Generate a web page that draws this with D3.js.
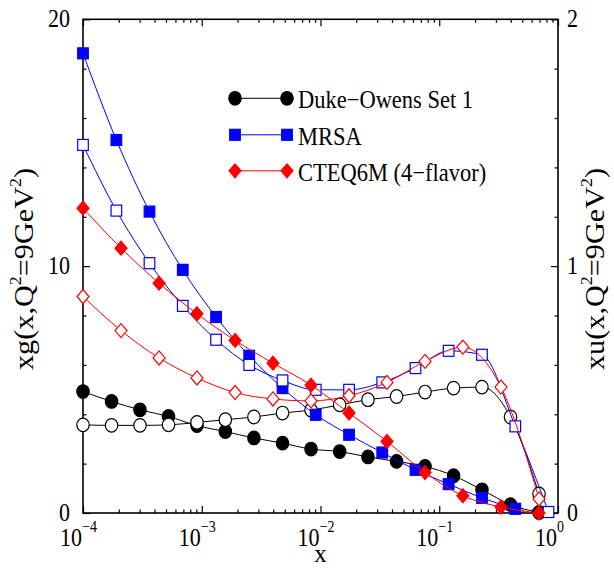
<!DOCTYPE html>
<html>
<head>
<meta charset="utf-8">
<script src="https://cdn.jsdelivr.net/npm/d3@7"></script>
<style>
  html, body { margin: 0; padding: 0; background: #fff; }
  svg { display: block; }
  text { font-family: "Liberation Serif", "Times New Roman", serif; fill: #000; }
</style>
</head>
<body>
<svg id="chart" width="614" height="569"></svg>
<script>
// ---------------- data ----------------
const dukeX = [1.0e-4, 1.74e-4, 3.02e-4, 5.25e-4, 9.12e-4, 1.58e-3, 2.75e-3, 4.79e-3, 8.32e-3,
               1.45e-2, 2.51e-2, 4.37e-2, 7.59e-2, 0.132, 0.229, 0.398, 0.692];
const dukeXg = [4.92, 4.52, 4.18, 3.91, 3.54, 3.30, 3.04, 2.83, 2.59,
                2.49, 2.27, 2.09, 1.89, 1.51, 0.94, 0.34, 0.02];
const dukeXu = [0.357, 0.355, 0.355, 0.357, 0.367, 0.378, 0.389, 0.405, 0.417,
                0.438, 0.459, 0.472, 0.490, 0.506, 0.510, 0.389, 0.077];

const mrsaX = [1.0e-4, 1.91e-4, 3.63e-4, 6.92e-4, 1.32e-3, 2.51e-3, 4.79e-3, 9.12e-3,
               1.74e-2, 3.31e-2, 6.31e-2, 0.120, 0.229, 0.437, 0.832];
const mrsaXg = [18.62, 15.11, 12.21, 9.85, 7.94, 6.37, 5.06, 3.98,
                3.17, 2.45, 1.75, 1.17, 0.61, 0.17];
const mrsaXu = [1.491, 1.225, 1.012, 0.839, 0.702, 0.600, 0.537, 0.499,
                0.499, 0.529, 0.587, 0.657, 0.641, 0.351, 0.004];

const cteqX = [1.0e-4, 2.09e-4, 4.37e-4, 9.12e-4, 1.91e-3, 3.98e-3, 8.32e-3,
               1.74e-2, 3.63e-2, 7.59e-2, 0.158, 0.331, 0.692];
const cteqXg = [12.35, 10.73, 9.31, 8.07, 6.99, 6.07, 5.18, 4.05, 2.90, 1.64, 0.70, 0.24, 0.0];
const cteqXu = [0.877, 0.739, 0.628, 0.547, 0.488, 0.462, 0.454, 0.475, 0.529, 0.614, 0.672, 0.510, 0.057];

const legendLabels = ["Duke\u2212Owens Set 1", "MRSA", "CTEQ6M (4\u2212flavor)"];
const xMajorTicks = [1e-4, 1e-3, 1e-2, 1e-1, 1];
const xTickExponents = ["\u22124", "\u22123", "\u22122", "\u22121", "0"];
const yLeftMajor = [0, 10, 20];
const yRightMajor = [0, 1, 2];

// ---------------- layout ----------------
const L = 83, R = 558, T = 19.3, B = 513;
const SY = 1.12; // vertical stretch of the glyphs in the reference
const svg = d3.select("#chart");

const x = d3.scaleLog().domain([1e-4, 1]).range([L, R]);
const yL = d3.scaleLinear().domain([0, 20]).range([B, T]);
const yR = d3.scaleLinear().domain([0, 2]).range([B, T]);

// minor ticks
const xMinor = [];
for (let e = -4; e < 0; e++) for (let m = 2; m <= 9; m++) xMinor.push(m * Math.pow(10, e));
const yLeftMinor = d3.range(0, 20.001, 2).filter(v => v % 10 !== 0);
const yRightMinor = yLeftMinor.map(v => v / 10);

function cleanAxis(g) { g.select(".domain").remove(); g.selectAll("text").remove();
  g.selectAll("line").attr("stroke", "#000").attr("stroke-width", 1.2); }

// bottom / top
svg.append("g").attr("transform", `translate(0,${B})`)
  .call(d3.axisBottom(x).tickValues(xMajorTicks).tickSizeInner(-7).tickSizeOuter(0)).call(cleanAxis);
svg.append("g").attr("transform", `translate(0,${B})`)
  .call(d3.axisBottom(x).tickValues(xMinor).tickSizeInner(-3.5).tickSizeOuter(0)).call(cleanAxis);
svg.append("g").attr("transform", `translate(0,${T})`)
  .call(d3.axisTop(x).tickValues(xMajorTicks).tickSizeInner(-7).tickSizeOuter(0)).call(cleanAxis);
svg.append("g").attr("transform", `translate(0,${T})`)
  .call(d3.axisTop(x).tickValues(xMinor).tickSizeInner(-3.5).tickSizeOuter(0)).call(cleanAxis);
// left / right
svg.append("g").attr("transform", `translate(${L},0)`)
  .call(d3.axisLeft(yL).tickValues(yLeftMajor).tickSizeInner(-7).tickSizeOuter(0)).call(cleanAxis);
svg.append("g").attr("transform", `translate(${L},0)`)
  .call(d3.axisLeft(yL).tickValues(yLeftMinor).tickSizeInner(-3.5).tickSizeOuter(0)).call(cleanAxis);
svg.append("g").attr("transform", `translate(${R},0)`)
  .call(d3.axisRight(yR).tickValues(yRightMajor).tickSizeInner(-7).tickSizeOuter(0)).call(cleanAxis);
svg.append("g").attr("transform", `translate(${R},0)`)
  .call(d3.axisRight(yR).tickValues(yRightMinor).tickSizeInner(-3.5).tickSizeOuter(0)).call(cleanAxis);

// frame
svg.append("rect").attr("x", L).attr("y", T).attr("width", R - L).attr("height", B - T)
  .attr("fill", "none").attr("stroke", "#000").attr("stroke-width", 1.6);

// ---------------- text helpers ----------------
function txt(px, py, str, size, anchor) {
  return svg.append("text")
    .attr("transform", `translate(${px},${py}) scale(1,${SY})`)
    .attr("font-size", size).attr("text-anchor", anchor || "start").text(str);
}

// x tick labels
xMajorTicks.forEach((v, i) => {
  const px = x(v);
  txt(px - 1, 546, "10", 22, "end");
  txt(px - 1, 532, xTickExponents[i], 14, "start");
});
// left / right tick labels
yLeftMajor.forEach(v => txt(70, yL(v) + 8, String(v), 22, "end"));
yRightMajor.forEach(v => txt(567, yR(v) + 8, String(v), 22, "start"));

// axis titles
svg.append("text")
  .attr("transform", `translate(${(L + R) / 2},562)`)
  .attr("font-size", 25).attr("text-anchor", "middle").text("x");

function yTitle(px, py, prefix) {
  const t = svg.append("text")
    .attr("transform", `translate(${px},${py}) rotate(-90) scale(${SY},1)`)
    .attr("font-size", 27).attr("text-anchor", "middle");
  t.append("tspan").text(prefix + "(x,Q");
  t.append("tspan").attr("font-size", 16).attr("dy", -12).text("2");
  t.append("tspan").attr("dy", 12).text("=9GeV");
  t.append("tspan").attr("font-size", 16).attr("dy", -12).text("2");
  t.append("tspan").attr("dy", 12).text(")");
}
yTitle(33, 269, "xg");
yTitle(604, 269, "xu");

// ---------------- series ----------------
const marker = {
  circle: (g, cx, cy, fill, stroke) => g.append("ellipse").attr("cx", cx).attr("cy", cy)
      .attr("rx", 6.2).attr("ry", 6.8).attr("fill", fill).attr("stroke", stroke).attr("stroke-width", 1.2),
  square: (g, cx, cy, fill, stroke) => g.append("rect").attr("x", cx - 5.3).attr("y", cy - 5.5)
      .attr("width", 10.6).attr("height", 11).attr("fill", fill).attr("stroke", stroke).attr("stroke-width", 1.2),
  diamond: (g, cx, cy, fill, stroke) => g.append("path")
      .attr("d", `M${cx},${cy - 7}L${cx + 6},${cy}L${cx},${cy + 7}L${cx - 6},${cy}Z`)
      .attr("fill", fill).attr("stroke", stroke).attr("stroke-width", 1.2)
};

const line = d3.line().curve(d3.curveMonotoneX);

function drawSeries(xs, ys, yScale, color, shape, filled) {
  const g = svg.append("g");
  const pts = ys.map((v, i) => [x(xs[i]), yScale(v)]);
  g.append("path").attr("d", line(pts)).attr("fill", "none")
    .attr("stroke", color).attr("stroke-width", 1);
  pts.forEach(p => marker[shape](g, p[0], p[1], filled ? color : "#fff", color));
}

drawSeries(dukeX, dukeXg, yL, "#000", "circle", true);
drawSeries(dukeX, dukeXu, yR, "#000", "circle", false);
drawSeries(mrsaX, mrsaXg, yL, "#0000ff", "square", true);
drawSeries(mrsaX, mrsaXu, yR, "#0000ff", "square", false);
drawSeries(cteqX, cteqXg, yL, "#ff0000", "diamond", true);
drawSeries(cteqX, cteqXu, yR, "#ff0000", "diamond", false);

// ---------------- legend ----------------
const legendColors = ["#000", "#0000ff", "#ff0000"];
const legendShapes = ["circle", "square", "diamond"];
const legendY = [98.3, 134.8, 170.8];
legendLabels.forEach((lab, i) => {
  const g = svg.append("g");
  const ly = legendY[i];
  g.append("line").attr("x1", 235).attr("x2", 287).attr("y1", ly).attr("y2", ly)
    .attr("stroke", legendColors[i]).attr("stroke-width", 1);
  marker[legendShapes[i]](g, 235, ly, legendColors[i], legendColors[i]);
  marker[legendShapes[i]](g, 287, ly, legendColors[i], legendColors[i]);
  txt(298, ly + 10, lab, 22.5, "start");
});
</script>
</body>
</html>
